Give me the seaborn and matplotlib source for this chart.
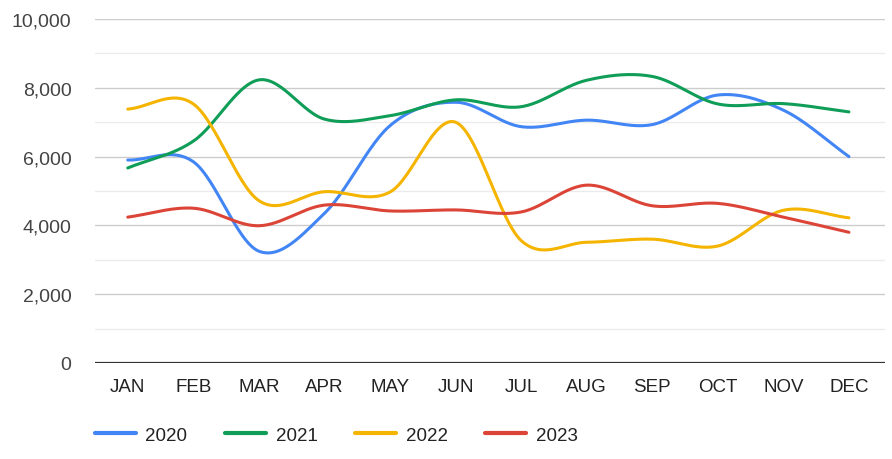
import matplotlib
matplotlib.use("Agg")
import matplotlib.pyplot as plt
import numpy as np
import pandas as pd
import seaborn as sns
from matplotlib.ticker import FuncFormatter, MultipleLocator

months = ["JAN", "FEB", "MAR", "APR", "MAY", "JUN", "JUL", "AUG", "SEP", "OCT", "NOV", "DEC"]
sales_2020 = [5900, 5850, 3250, 4350, 6900, 7580, 6870, 7060, 6930, 7790, 7350, 6000]
sales_2021 = [5670, 6450, 8230, 7090, 7190, 7650, 7450, 8220, 8330, 7530, 7540, 7300]
sales_2022 = [7380, 7530, 4720, 4980, 4970, 7000, 3560, 3510, 3600, 3400, 4440, 4220]
sales_2023 = [4240, 4500, 3990, 4590, 4420, 4450, 4390, 5170, 4570, 4640, 4240, 3800]

series = {"2020": sales_2020, "2021": sales_2021, "2022": sales_2022, "2023": sales_2023}
colors = {"2020": "#4285F4", "2021": "#0F9D58", "2022": "#F4B400", "2023": "#DB4437"}


def smooth(x, y, steps=30):
    # cubic Hermite (Catmull-Rom) curve through the data points, for drawing only
    x = np.asarray(x, float)
    y = np.asarray(y, float)
    n = len(x)
    m = np.zeros(n)
    m[1:-1] = (y[2:] - y[:-2]) / (x[2:] - x[:-2])
    m[0] = (y[1] - y[0]) / (x[1] - x[0])
    m[-1] = (y[-1] - y[-2]) / (x[-1] - x[-2])
    xs, ys = [], []
    for i in range(n - 1):
        h = x[i + 1] - x[i]
        t = np.linspace(0, 1, steps, endpoint=False)
        h00 = 2 * t**3 - 3 * t**2 + 1
        h10 = t**3 - 2 * t**2 + t
        h01 = -2 * t**3 + 3 * t**2
        h11 = t**3 - t**2
        xs.append(x[i] + t * h)
        ys.append(h00 * y[i] + h10 * h * m[i] + h01 * y[i + 1] + h11 * h * m[i + 1])
    xs.append([x[-1]])
    ys.append([y[-1]])
    return np.concatenate(xs), np.concatenate(ys)


frames = []
pos = np.arange(len(months))
for year, vals in series.items():
    xs, ys = smooth(pos, vals)
    frames.append(pd.DataFrame({"x": xs, "value": ys, "year": year}))
df = pd.concat(frames, ignore_index=True)

sns.set_theme(style="white")
plt.rcParams["font.family"] = ["Liberation Sans", "DejaVu Sans"]

fig = plt.figure(figsize=(8.92, 4.6), dpi=100)
ax = fig.add_axes([95 / 892, 96 / 460, 790 / 892, 344 / 460])

sns.lineplot(data=df, x="x", y="value", hue="year", palette=colors, linewidth=2.2,
             sort=False, estimator=None, ax=ax, legend=False)

ax.set_xlim(-0.5, 11.55)
ax.set_ylim(0, 10000)
ax.set_xticks(pos)
ax.set_xticklabels(months)
ax.yaxis.set_major_locator(MultipleLocator(2000))
ax.yaxis.set_minor_locator(MultipleLocator(1000))
ax.yaxis.set_major_formatter(FuncFormatter(lambda v, _: f"{int(v):,}"))
ax.grid(which="major", axis="y", color="#cccccc", linewidth=1.0, zorder=0)
ax.grid(which="minor", axis="y", color="#ebebeb", linewidth=1.0, zorder=0)
ax.set_axisbelow(True)
ax.axhline(0, color="#333333", linewidth=1.6, zorder=3)
for s in ax.spines.values():
    s.set_visible(False)
ax.tick_params(axis="both", which="both", length=0)
ax.tick_params(axis="y", pad=17, labelsize=14, labelcolor="#444444")
ax.tick_params(axis="x", pad=11, labelsize=13.5, labelcolor="#222222")
ax.set_xlabel("")
ax.set_ylabel("")

handles = [plt.Line2D([], [], color=colors[y], linewidth=3) for y in series]
fig.legend(handles, list(series), loc="center left", bbox_to_anchor=(78 / 892, 1 - 436 / 460),
           ncol=4, frameon=False, fontsize=13.5, handlelength=2.2, handletextpad=0.5,
           columnspacing=2.0, labelcolor="#222222")

fig.savefig("out.png", dpi=100)
